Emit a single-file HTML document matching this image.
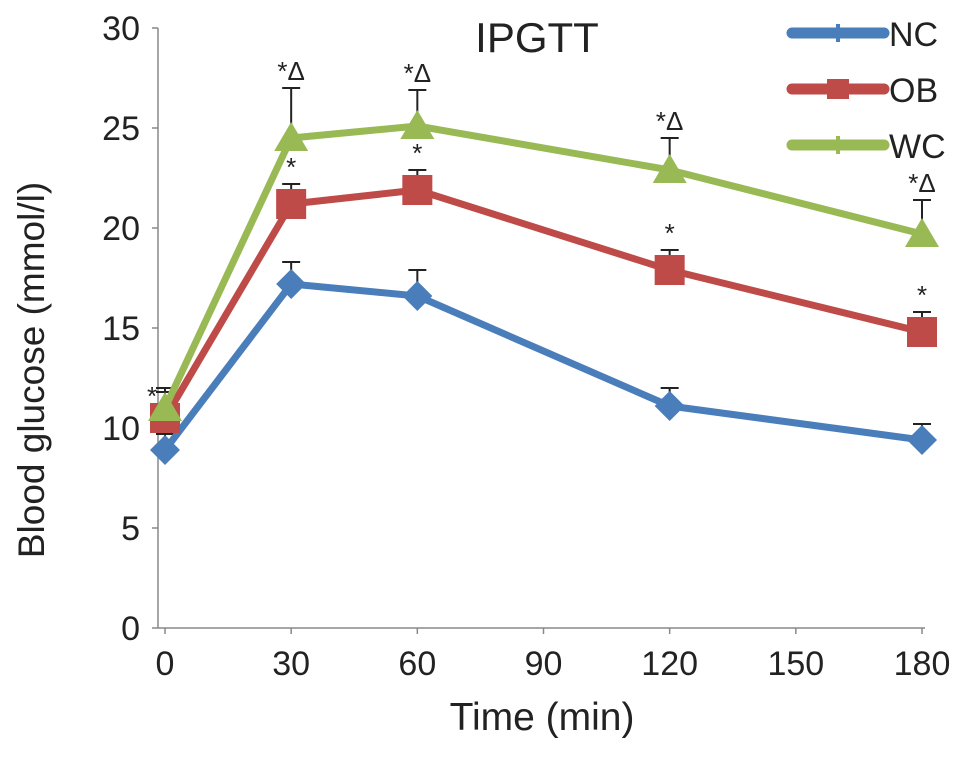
<!DOCTYPE html>
<html><head><meta charset="utf-8"><style>
body{margin:0;background:#fff}
svg{font-family:"Liberation Sans",sans-serif}
</style></head><body>
<svg id="chart" width="969" height="762" viewBox="0 0 969 762" xmlns="http://www.w3.org/2000/svg"></svg>
<script>
const times=[0,30,60,120,180];
const xTicks=[0,30,60,90,120,150,180];
const yTicks=[0,5,10,15,20,25,30];
const ncVals=[8.9,17.2,16.6,11.1,9.4];
const ncErr=[0.8,1.1,1.3,0.9,0.8];
const obVals=[10.5,21.2,21.9,17.9,14.8];
const obErr=[1.3,1.0,1.0,1.0,1.0];
const wcVals=[11.0,24.5,25.1,22.9,19.7];
const wcErr=[1.0,2.5,1.8,1.6,1.7];
const obMarks=["","*","*","*","*"];
const wcMarks=["","*Δ","*Δ","*Δ","*Δ"];

const NS="http://www.w3.org/2000/svg";
const svg=document.getElementById('chart');
const X=t=>165+t*(757/180);
const Y=v=>628-v*20;
function el(tag,attrs,parent){const e=document.createElementNS(NS,tag);for(const k in attrs)e.setAttribute(k,attrs[k]);(parent||svg).appendChild(e);return e;}

let a=el('line',{x1:158,y1:28,x2:158,y2:628,stroke:'#888','stroke-width':1.5});


a=el('line',{x1:158,y1:628,x2:925,y2:628,stroke:'#888','stroke-width':1.5});


yTicks.forEach(v=>{
  const t=el('line',{x1:152,y1:Y(v),x2:158,y2:Y(v),stroke:'#888','stroke-width':1.5});
  
  
  const tx=el('text',{x:140,y:Y(v)+12,'font-size':34,'text-anchor':'end',fill:'#222'});
  tx.textContent=v;
  
  
});
xTicks.forEach(v=>{
  const t=el('line',{x1:X(v),y1:628,x2:X(v),y2:634,stroke:'#888','stroke-width':1.5});
  
  
  const tx=el('text',{x:X(v),y:675,'font-size':34,'text-anchor':'middle',fill:'#222'});
  tx.textContent=v;
  
  
});
let t=el('text',{x:542,y:730,'font-size':39,'text-anchor':'middle',fill:'#222'});t.textContent='Time (min)';


t=el('text',{x:0,y:0,'font-size':37,'text-anchor':'middle',fill:'#222',transform:'translate(44,370) rotate(-90)'});t.textContent='Blood glucose (mmol/l)';


t=el('text',{x:537,y:52,'font-size':42,'text-anchor':'middle',fill:'#222'});t.textContent='IPGTT';



function marker(shape,x,y,color,g){
  if(shape==='d')return el('polygon',{points:`${x},${y-15} ${x+15},${y} ${x},${y+15} ${x-15},${y}`,fill:color},g);
  if(shape==='s')return el('rect',{x:x-15,y:y-15,width:30,height:30,fill:color},g);
  return el('polygon',{points:`${x},${y-16} ${x+17},${y+13} ${x-17},${y+13}`,fill:color},g);
}
function series(name,vals,errs,color,shape){
  const g=el('g',{});
  
  
  vals.forEach((v,i)=>{
    const x=X(times[i]),y0=Y(v),y1=Y(v+errs[i]);
    const e=el('path',{d:`M${x},${y0} V${y1} M${x-9},${y1} H${x+9}`,stroke:'#222','stroke-width':2,fill:'none'},g);
    
    
  });
  const l=el('polyline',{points:vals.map((v,i)=>X(times[i])+','+Y(v)).join(' '),fill:'none',stroke:color,'stroke-width':7,'stroke-linejoin':'round'},g);
  
  
  vals.forEach((v,i)=>{
    const m=marker(shape,X(times[i]),Y(v),color,g);
    
    
  });
}
series('nc',ncVals,ncErr,'#4a7ebb','d');
series('ob',obVals,obErr,'#be4b48','s');
series('wc',wcVals,wcErr,'#98b954','t');

function marks(list,vals,errs){
  list.forEach((m,i)=>{
    if(!m)return;
    const tx=el('text',{x:X(times[i]),y:Y(vals[i]+errs[i])-8,'font-size':26,'text-anchor':'middle',fill:'#222'});
    tx.textContent=m;
    
    
  });
}
marks(obMarks,obVals,obErr);
marks(wcMarks,wcVals,wcErr);
t=el('text',{x:152,y:405,'font-size':26,'text-anchor':'middle',fill:'#222'});t.textContent='*';



const leg=[['NC','#4a7ebb','d',33],['OB','#be4b48','s',89],['WC','#98b954','t',145]];
leg.forEach(([n,c,s,y])=>{
  const g=el('g',{});
  
  
  el('line',{x1:792,y1:y,x2:884,y2:y,stroke:c,'stroke-width':11,'stroke-linecap':'round'},g);
  if(s==='s')el('rect',{x:827,y:y-10,width:22,height:20,fill:c},g);
  else el('rect',{x:836,y:y-9,width:4,height:18,fill:c},g);
  const tx=el('text',{x:889,y:y+13,'font-size':34,fill:'#222'},g);tx.textContent=n;
});
</script>
</body></html>
